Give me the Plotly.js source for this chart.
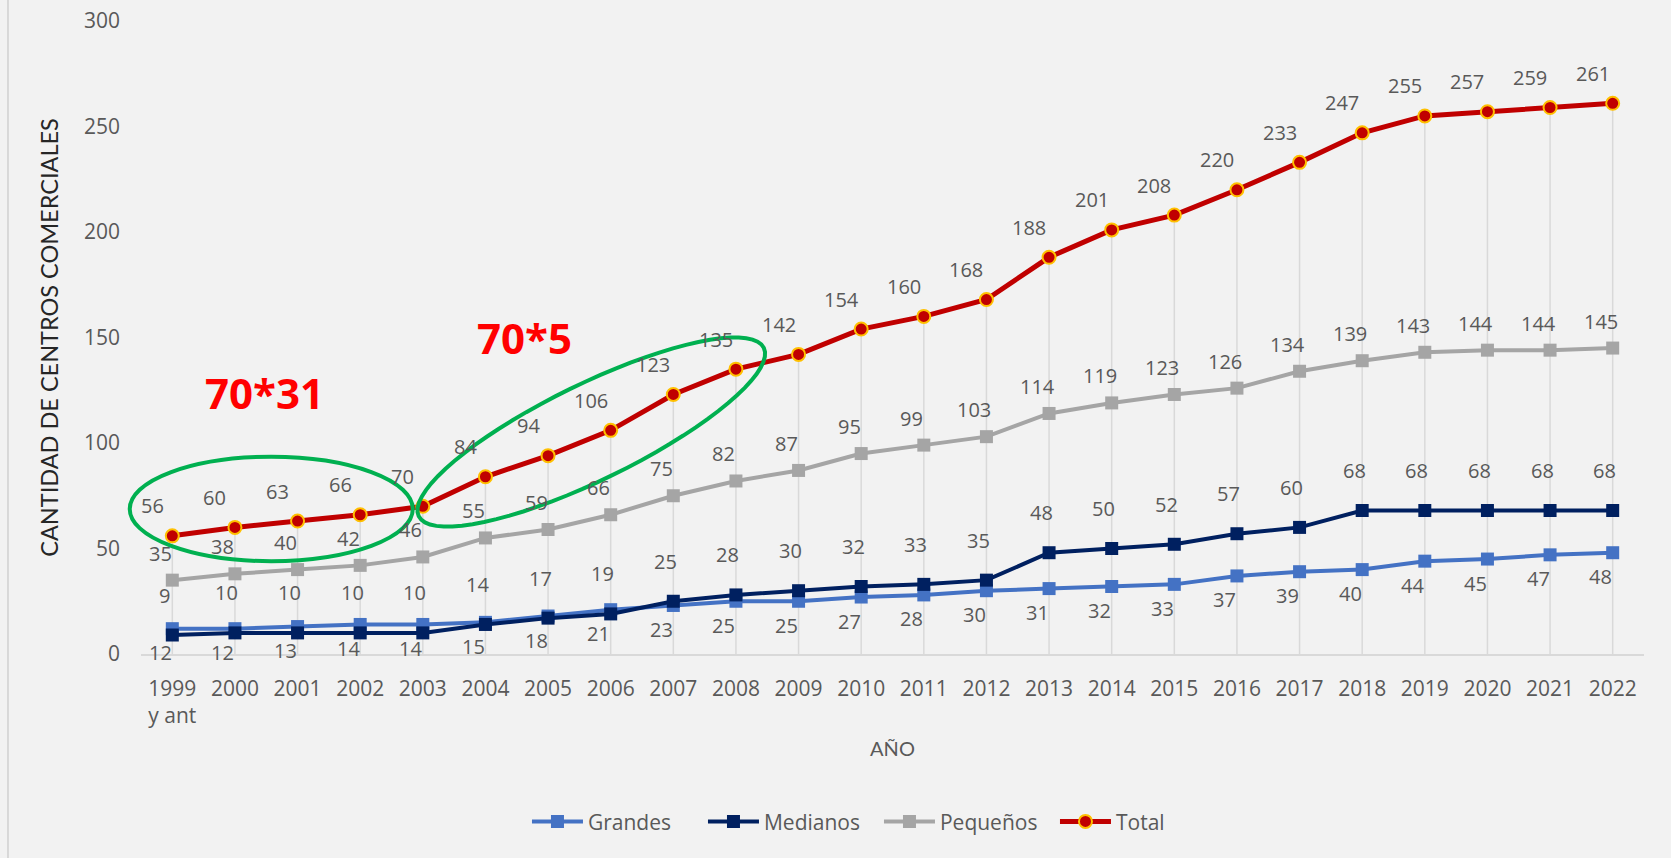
<!DOCTYPE html>
<html>
<head>
<meta charset="utf-8">
<script src="https://cdn.plot.ly/plotly-3.0.1.min.js"></script>
<style>
  html, body { margin: 0; padding: 0; background: #f2f2f2; }
  #chart { width: 1671px; height: 858px; }
</style>
</head>
<body>
<div id="chart"></div>
<script>
// ---- Data ----
const years = ["1999<br>y ant", "2000", "2001", "2002", "2003", "2004", "2005", "2006", "2007", "2008",
  "2009", "2010", "2011", "2012", "2013", "2014", "2015", "2016", "2017", "2018", "2019", "2020", "2021", "2022"];
const grandes = [12, 12, 13, 14, 14, 15, 18, 21, 23, 25, 25, 27, 28, 30, 31, 32, 33, 37, 39, 40, 44, 45, 47, 48];
const medianos = [9, 10, 10, 10, 10, 14, 17, 19, 25, 28, 30, 32, 33, 35, 48, 50, 52, 57, 60, 68, 68, 68, 68, 68];
const pequenos = [35, 38, 40, 42, 46, 55, 59, 66, 75, 82, 87, 95, 99, 103, 114, 119, 123, 126, 134, 139, 143, 144, 144, 145];
const total = [56, 60, 63, 66, 70, 84, 94, 106, 123, 135, 142, 154, 160, 168, 188, 201, 208, 220, 233, 247, 255, 257, 259, 261];
const yTicks = [0, 50, 100, 150, 200, 250, 300];

const idx = years.map((_, i) => i);
const X_RANGE = [-0.5, years.length - 0.5];
const Y_RANGE = [0, 300];
const FONT = 'Open Sans, Noto Sans, sans-serif';
const GREY_TXT = '#595959';

// helpers to express an axis position as a paper fraction (avoids shape clipping)
const xp = v => (v - X_RANGE[0]) / (X_RANGE[1] - X_RANGE[0]);
const yp = v => (v - Y_RANGE[0]) / (Y_RANGE[1] - Y_RANGE[0]);

// drop lines (from Total down to the axis)
const dropTrace = {
  x: idx, y: total, type: 'scatter', mode: 'markers',
  marker: { size: 2, opacity: 0 },
  error_y: { type: 'data', symmetric: false, array: total.map(() => 0), arrayminus: total,
             width: 0, color: '#d9d9d9', thickness: 1.5 },
  showlegend: false, hoverinfo: 'skip'
};

function series(name, vals, color, lw, marker) {
  return { x: idx, y: vals, name: name, type: 'scatter', mode: 'lines+markers',
           line: { color: color, width: lw }, marker: marker };
}

const traces = [
  dropTrace,
  series('Grandes', grandes, '#4472C4', 4, { symbol: 'square', size: 13, color: '#4472C4' }),
  series('Medianos', medianos, '#002060', 4, { symbol: 'square', size: 13, color: '#002060' }),
  series('Pequeños', pequenos, '#A5A5A5', 4, { symbol: 'square', size: 13, color: '#A5A5A5' }),
  series('Total', total, '#C00000', 5, { symbol: 'circle', size: 13, color: '#C00000',
                                         line: { color: '#FFC000', width: 2 } })
];

// data labels
const labelSpecs = [
  { vals: grandes, dx: -12, dy: -24 },
  { vals: medianos, dx: -8, dy: 40 },
  { vals: pequenos, dx: -12, dy: 27 },
  { vals: total, dx: -20, dy: 30 }
];
const annotations = [];
labelSpecs.forEach(s => {
  s.vals.forEach((v, i) => {
    annotations.push({ x: i, y: v, xref: 'x', yref: 'y', text: String(v), showarrow: false,
      xshift: s.dx, yshift: s.dy, font: { family: FONT, size: 20, color: GREY_TXT } });
  });
});
// red notes
annotations.push({ x: 1.47, y: 124, xref: 'x', yref: 'y', text: '<b>70*31</b>', showarrow: false,
  font: { family: FONT, size: 42, color: '#FF0000' } });
annotations.push({ x: 5.62, y: 150, xref: 'x', yref: 'y', text: '<b>70*5</b>', showarrow: false,
  font: { family: FONT, size: 42, color: '#FF0000' } });

// tilted ellipse path (pixel units around an anchor)
function ellipsePath(a, b, deg) {
  const th = deg * Math.PI / 180;
  const pts = [];
  for (let k = 0; k <= 72; k++) {
    const t = 2 * Math.PI * k / 72;
    const px = a * Math.cos(t) * Math.cos(th) - b * Math.sin(t) * Math.sin(th);
    const py = a * Math.cos(t) * Math.sin(th) + b * Math.sin(t) * Math.cos(th);
    pts.push((k === 0 ? 'M' : 'L') + px.toFixed(2) + ',' + py.toFixed(2));
  }
  return pts.join(' ') + ' Z';
}

const shapes = [
  { type: 'line', xref: 'paper', yref: 'paper', x0: -0.0885, x1: -0.0885, y0: -0.33, y1: 1.04,
    line: { color: '#d0d0d0', width: 1.5 } },
  { type: 'circle', xref: 'paper', yref: 'paper', x0: xp(-0.68), x1: xp(3.84), y0: yp(44), y1: yp(93.5),
    line: { color: '#00B050', width: 4 } },
  { type: 'path', xref: 'x', yref: 'y', xsizemode: 'pixel', ysizemode: 'pixel',
    xanchor: 6.69, yanchor: 105.2, path: ellipsePath(192, 48, 26),
    line: { color: '#00B050', width: 4 } }
];

const layout = {
  width: 1671, height: 858,
  paper_bgcolor: '#f2f2f2', plot_bgcolor: '#f2f2f2',
  margin: { l: 141, r: 27, t: 21, b: 204 },
  showlegend: true,
  legend: { orientation: 'h', x: 0.491, xanchor: 'center', y: -0.265, yanchor: 'middle',
            itemwidth: 51, entrywidth: 110, entrywidthmode: 'pixels',
            font: { family: FONT, size: 21, color: GREY_TXT }, bgcolor: 'rgba(0,0,0,0)' },
  xaxis: {
    range: X_RANGE, tickmode: 'array', tickvals: idx, ticktext: years,
    showgrid: false, zeroline: false, showline: true, linecolor: '#d9d9d9', linewidth: 1.5,
    ticks: '', ticklabelstandoff: 15, automargin: false,
    tickfont: { family: FONT, size: 21, color: GREY_TXT },
    title: { text: 'AÑO', standoff: 14, font: { family: 'Lato, sans-serif', size: 20, color: GREY_TXT } }
  },
  yaxis: {
    range: Y_RANGE, tickmode: 'array', tickvals: yTicks, ticktext: yTicks.map(String),
    showgrid: false, zeroline: false, showline: false, ticks: '', ticklabelstandoff: 20,
    automargin: false,
    tickfont: { family: FONT, size: 21, color: GREY_TXT },
    title: { text: 'CANTIDAD DE CENTROS COMERCIALES', standoff: 18,
             font: { family: 'Lato, sans-serif', size: 23.5, color: '#262626' } }
  },
  annotations: annotations,
  shapes: shapes
};

Plotly.newPlot('chart', traces, layout, { displayModeBar: false, responsive: false });
</script>
</body>
</html>
